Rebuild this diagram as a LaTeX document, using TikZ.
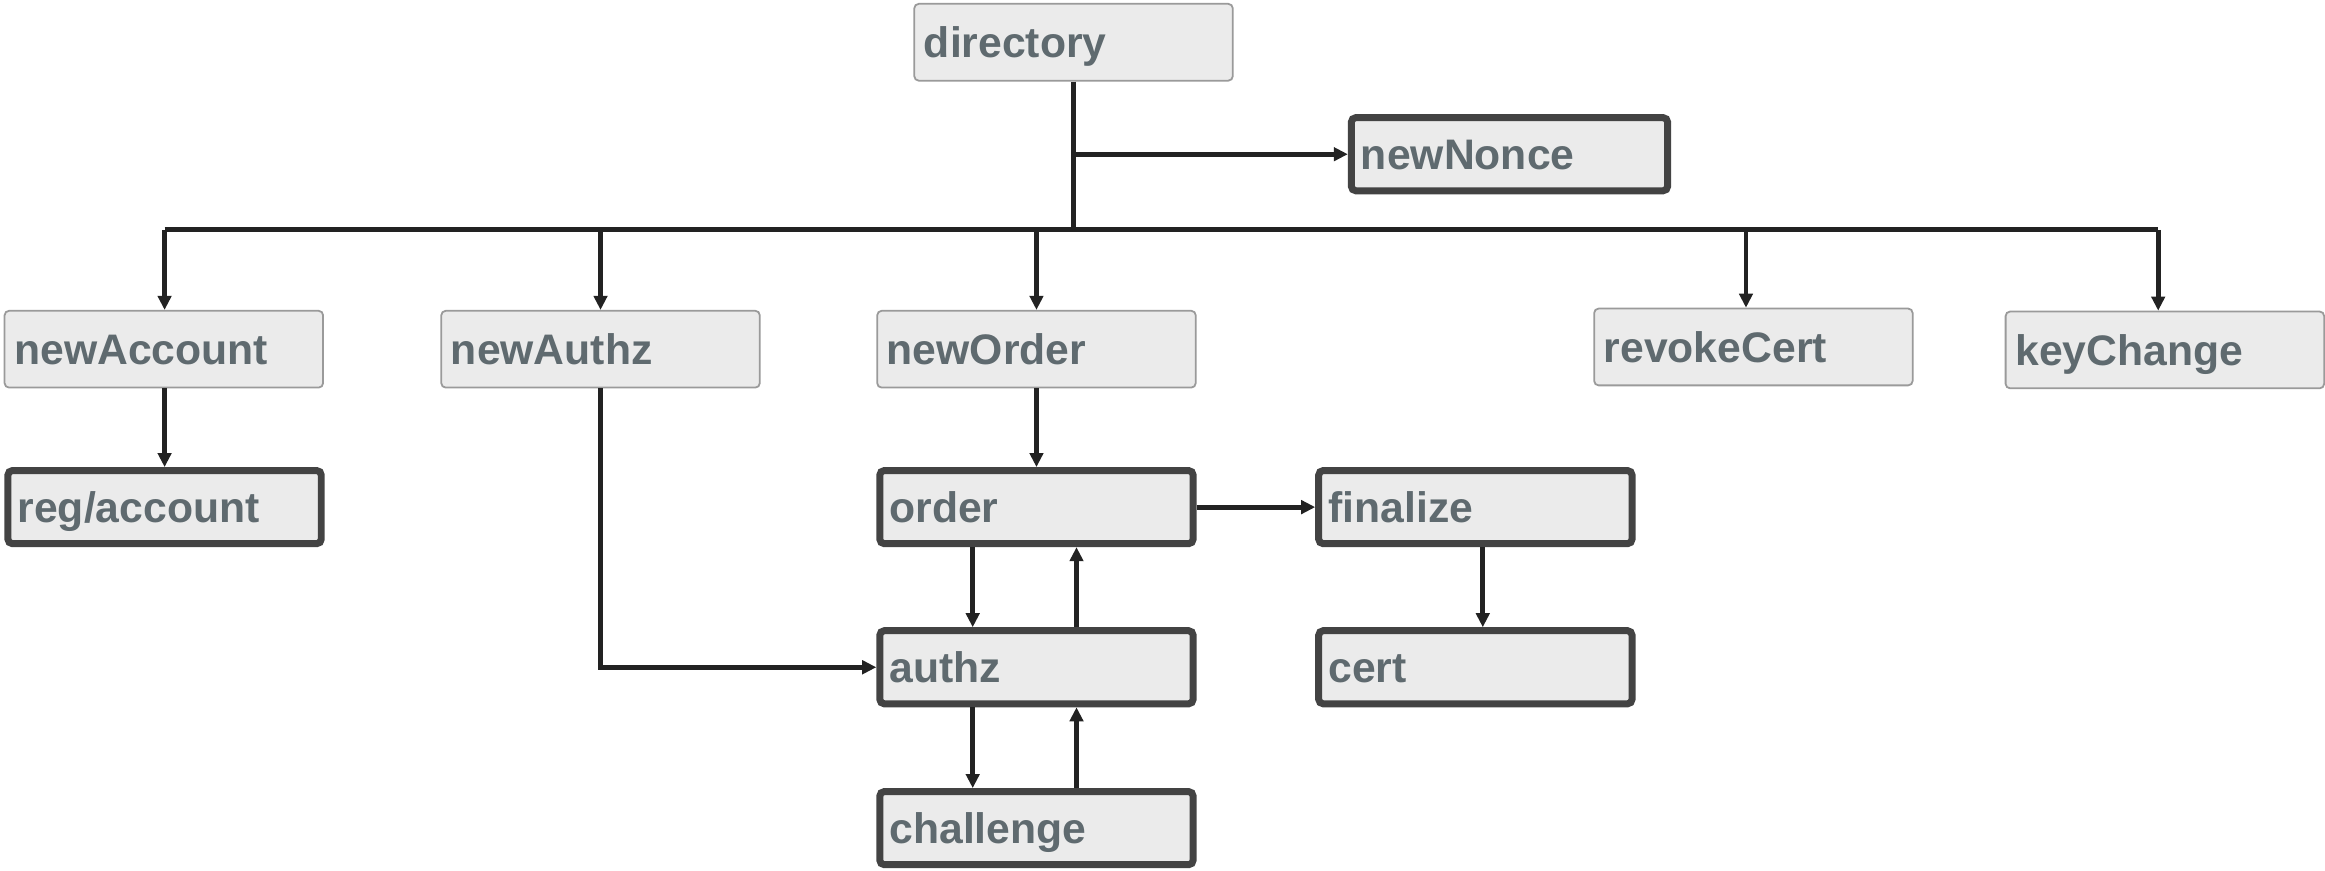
\documentclass[tikz,border=0pt]{standalone}
\usepackage{fontspec}
\setmainfont{Liberation Sans}
\usetikzlibrary{arrows.meta}
\definecolor{boxfill}{HTML}{EBEBEB}
\definecolor{thinedge}{HTML}{9A9A9A}
\definecolor{thickedge}{HTML}{434343}
\definecolor{labelgray}{HTML}{5F6A6F}
\definecolor{wire}{HTML}{222222}
\begin{document}
\begin{tikzpicture}[x=1pt,y=-1pt,
  every node/.style={font=\fontsize{28.8}{34}\selectfont\bfseries, text=labelgray},
  basebox/.style={rectangle, fill=boxfill, align=left, inner xsep=6.5pt, inner ysep=0pt,
    text height=20.6pt, text depth=0pt},
  thinbox/.style={basebox, draw=thinedge, line width=1.2pt, rounded corners=3pt,
    minimum width=214.8pt, text width=201.8pt, minimum height=51.8pt},
  thickbox/.style={basebox, draw=thickedge, line width=4.7pt, rounded corners=3pt,
    minimum width=211.3pt, text width=198.3pt, minimum height=49.3pt},
  wireline/.style={draw=wire, line width=3.3pt},
  arrow/.style={wireline, -{Triangle[length=9.5pt,width=9pt]}}
]
\useasboundingbox (0,0) rectangle (1568,587);

% resources
\node[thinbox]  (directory)  at (724,28.5)   {directory};
\node[thickbox, minimum width=213.3pt, text width=200.3pt] (newNonce) at (1018,104) {newNonce};
\node[thinbox]  (newAccount) at (110.5,235.5) {newAccount};
\node[thinbox]  (newAuthz)   at (405,235.5)   {newAuthz};
\node[thinbox]  (newOrder)   at (699,235.5)   {newOrder};
\node[thinbox]  (revokeCert) at (1182.5,234)  {revokeCert};
\node[thinbox]  (keyChange)  at (1460,236)    {keyChange};
\node[thickbox] (regaccount) at (111,342)     {reg/account};
\node[thickbox] (order)      at (699,342)     {order};
\node[thickbox] (finalize)   at (995,342)     {finalize};
\node[thickbox] (authz)      at (699,450)     {authz};
\node[thickbox] (cert)       at (995,450)     {cert};
\node[thickbox] (challenge)  at (699,558.5)   {challenge};

% distribution bus below the directory
\coordinate (busL) at (111,155);
\coordinate (busR) at (1455.5,155);
\coordinate (nonceTap) at (724,104);
\coordinate (revokeTap) at (1177.5,155);

\draw[wireline] (directory.south) -- (directory.south |- busL);
\draw[wireline] (busL) -- (busR);
\draw[arrow] (nonceTap) -- (newNonce.west);

\draw[arrow] (busL) -- (busL |- newAccount.north);
\draw[arrow] (newAuthz.north |- busL) -- (newAuthz.north);
\draw[arrow] (newOrder.north |- busL) -- (newOrder.north);
\draw[arrow] (revokeTap) -- (revokeTap |- revokeCert.north);
\draw[arrow] (busR) -- (busR |- keyChange.north);

% lower links
\draw[arrow] (newAccount.south -| regaccount.north) -- (regaccount.north);
\draw[arrow] (newOrder.south) -- (order.north);
\draw[arrow] (newAuthz.south) |- (authz.west);
\draw[arrow] (order.east) -- (finalize.west);
\draw[arrow] ([xshift=5pt]finalize.south) -- ([xshift=5pt]cert.north);
\draw[arrow] ([xshift=-43pt]order.south) -- ([xshift=-43pt]authz.north);
\draw[arrow] ([xshift=27pt]authz.north) -- ([xshift=27pt]order.south);
\draw[arrow] ([xshift=-43pt]authz.south) -- ([xshift=-43pt]challenge.north);
\draw[arrow] ([xshift=27pt]challenge.north) -- ([xshift=27pt]authz.south);
\end{tikzpicture}
\end{document}
